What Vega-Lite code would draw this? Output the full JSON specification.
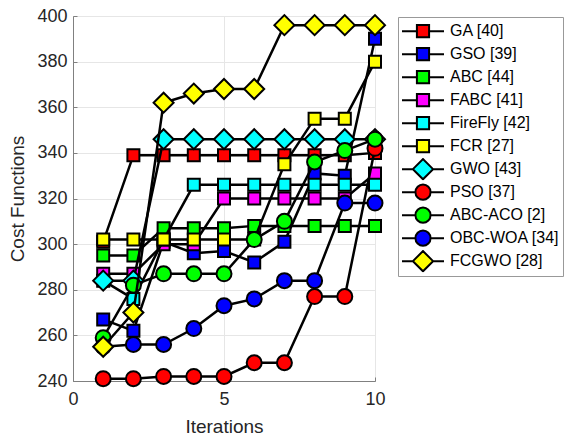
{
  "$schema": "https://vega.github.io/schema/vega-lite/v6.json",
  "width": 302,
  "height": 365,
  "autosize": {"type": "none"},
  "padding": {"left": 73, "top": 16, "right": 196, "bottom": 58},
  "background": "white",
  "config": {
    "view": {"stroke": "#808080", "strokeWidth": 1},
    "font": "Liberation Sans",
    "axis": {
      "labelFont": "Liberation Sans",
      "titleFont": "Liberation Sans",
      "labelFontSize": 18,
      "titleFontSize": 19,
      "titleFontWeight": "normal",
      "labelColor": "#262626",
      "titleColor": "#262626",
      "domainColor": "#808080",
      "gridColor": "#e6e6e6",
      "tickColor": "#808080",
      "tickSize": -4
    },
    "legend": {"symbolStrokeWidth": 2},
    "line": {"color": "black", "strokeWidth": 2.5},
    "point": {"filled": true, "stroke": "black", "strokeWidth": 2, "opacity": 1}
  },
  "data": {
    "values": [
      {"method": "GA [40]", "iteration": 1, "cost": 301},
      {"method": "GA [40]", "iteration": 2, "cost": 339},
      {"method": "GA [40]", "iteration": 3, "cost": 339},
      {"method": "GA [40]", "iteration": 4, "cost": 339},
      {"method": "GA [40]", "iteration": 5, "cost": 339},
      {"method": "GA [40]", "iteration": 6, "cost": 339},
      {"method": "GA [40]", "iteration": 7, "cost": 339},
      {"method": "GA [40]", "iteration": 8, "cost": 339},
      {"method": "GA [40]", "iteration": 9, "cost": 339},
      {"method": "GA [40]", "iteration": 10, "cost": 340},
      {"method": "GSO [39]", "iteration": 1, "cost": 267},
      {"method": "GSO [39]", "iteration": 2, "cost": 262},
      {"method": "GSO [39]", "iteration": 3, "cost": 301},
      {"method": "GSO [39]", "iteration": 4, "cost": 296},
      {"method": "GSO [39]", "iteration": 5, "cost": 297},
      {"method": "GSO [39]", "iteration": 6, "cost": 292},
      {"method": "GSO [39]", "iteration": 7, "cost": 301},
      {"method": "GSO [39]", "iteration": 8, "cost": 331},
      {"method": "GSO [39]", "iteration": 9, "cost": 330},
      {"method": "GSO [39]", "iteration": 10, "cost": 390},
      {"method": "ABC [44]", "iteration": 1, "cost": 295},
      {"method": "ABC [44]", "iteration": 2, "cost": 295},
      {"method": "ABC [44]", "iteration": 3, "cost": 307},
      {"method": "ABC [44]", "iteration": 4, "cost": 307},
      {"method": "ABC [44]", "iteration": 5, "cost": 307},
      {"method": "ABC [44]", "iteration": 6, "cost": 308},
      {"method": "ABC [44]", "iteration": 7, "cost": 308},
      {"method": "ABC [44]", "iteration": 8, "cost": 308},
      {"method": "ABC [44]", "iteration": 9, "cost": 308},
      {"method": "ABC [44]", "iteration": 10, "cost": 308},
      {"method": "FABC [41]", "iteration": 1, "cost": 287},
      {"method": "FABC [41]", "iteration": 2, "cost": 287},
      {"method": "FABC [41]", "iteration": 3, "cost": 300},
      {"method": "FABC [41]", "iteration": 4, "cost": 300},
      {"method": "FABC [41]", "iteration": 5, "cost": 320},
      {"method": "FABC [41]", "iteration": 6, "cost": 320},
      {"method": "FABC [41]", "iteration": 7, "cost": 320},
      {"method": "FABC [41]", "iteration": 8, "cost": 320},
      {"method": "FABC [41]", "iteration": 9, "cost": 320},
      {"method": "FABC [41]", "iteration": 10, "cost": 331},
      {"method": "FireFly [42]", "iteration": 1, "cost": 284},
      {"method": "FireFly [42]", "iteration": 2, "cost": 276},
      {"method": "FireFly [42]", "iteration": 3, "cost": 302},
      {"method": "FireFly [42]", "iteration": 4, "cost": 326},
      {"method": "FireFly [42]", "iteration": 5, "cost": 326},
      {"method": "FireFly [42]", "iteration": 6, "cost": 326},
      {"method": "FireFly [42]", "iteration": 7, "cost": 326},
      {"method": "FireFly [42]", "iteration": 8, "cost": 326},
      {"method": "FireFly [42]", "iteration": 9, "cost": 326},
      {"method": "FireFly [42]", "iteration": 10, "cost": 326},
      {"method": "FCR [27]", "iteration": 1, "cost": 302},
      {"method": "FCR [27]", "iteration": 2, "cost": 302},
      {"method": "FCR [27]", "iteration": 3, "cost": 302},
      {"method": "FCR [27]", "iteration": 4, "cost": 302},
      {"method": "FCR [27]", "iteration": 5, "cost": 302},
      {"method": "FCR [27]", "iteration": 6, "cost": 302},
      {"method": "FCR [27]", "iteration": 7, "cost": 335},
      {"method": "FCR [27]", "iteration": 8, "cost": 355},
      {"method": "FCR [27]", "iteration": 9, "cost": 355},
      {"method": "FCR [27]", "iteration": 10, "cost": 380},
      {"method": "GWO [43]", "iteration": 1, "cost": 284},
      {"method": "GWO [43]", "iteration": 2, "cost": 284},
      {"method": "GWO [43]", "iteration": 3, "cost": 346},
      {"method": "GWO [43]", "iteration": 4, "cost": 346},
      {"method": "GWO [43]", "iteration": 5, "cost": 346},
      {"method": "GWO [43]", "iteration": 6, "cost": 346},
      {"method": "GWO [43]", "iteration": 7, "cost": 346},
      {"method": "GWO [43]", "iteration": 8, "cost": 346},
      {"method": "GWO [43]", "iteration": 9, "cost": 346},
      {"method": "GWO [43]", "iteration": 10, "cost": 346},
      {"method": "PSO [37]", "iteration": 1, "cost": 241},
      {"method": "PSO [37]", "iteration": 2, "cost": 241},
      {"method": "PSO [37]", "iteration": 3, "cost": 242},
      {"method": "PSO [37]", "iteration": 4, "cost": 242},
      {"method": "PSO [37]", "iteration": 5, "cost": 242},
      {"method": "PSO [37]", "iteration": 6, "cost": 248},
      {"method": "PSO [37]", "iteration": 7, "cost": 248},
      {"method": "PSO [37]", "iteration": 8, "cost": 277},
      {"method": "PSO [37]", "iteration": 9, "cost": 277},
      {"method": "PSO [37]", "iteration": 10, "cost": 342},
      {"method": "ABC-ACO [2]", "iteration": 1, "cost": 259},
      {"method": "ABC-ACO [2]", "iteration": 2, "cost": 282},
      {"method": "ABC-ACO [2]", "iteration": 3, "cost": 287},
      {"method": "ABC-ACO [2]", "iteration": 4, "cost": 287},
      {"method": "ABC-ACO [2]", "iteration": 5, "cost": 287},
      {"method": "ABC-ACO [2]", "iteration": 6, "cost": 302},
      {"method": "ABC-ACO [2]", "iteration": 7, "cost": 310},
      {"method": "ABC-ACO [2]", "iteration": 8, "cost": 336},
      {"method": "ABC-ACO [2]", "iteration": 9, "cost": 341},
      {"method": "ABC-ACO [2]", "iteration": 10, "cost": 346},
      {"method": "OBC-WOA [34]", "iteration": 1, "cost": 255},
      {"method": "OBC-WOA [34]", "iteration": 2, "cost": 256},
      {"method": "OBC-WOA [34]", "iteration": 3, "cost": 256},
      {"method": "OBC-WOA [34]", "iteration": 4, "cost": 263},
      {"method": "OBC-WOA [34]", "iteration": 5, "cost": 273},
      {"method": "OBC-WOA [34]", "iteration": 6, "cost": 276},
      {"method": "OBC-WOA [34]", "iteration": 7, "cost": 284},
      {"method": "OBC-WOA [34]", "iteration": 8, "cost": 284},
      {"method": "OBC-WOA [34]", "iteration": 9, "cost": 318},
      {"method": "OBC-WOA [34]", "iteration": 10, "cost": 318},
      {"method": "FCGWO [28]", "iteration": 1, "cost": 255},
      {"method": "FCGWO [28]", "iteration": 2, "cost": 270},
      {"method": "FCGWO [28]", "iteration": 3, "cost": 362},
      {"method": "FCGWO [28]", "iteration": 4, "cost": 366},
      {"method": "FCGWO [28]", "iteration": 5, "cost": 368},
      {"method": "FCGWO [28]", "iteration": 6, "cost": 368},
      {"method": "FCGWO [28]", "iteration": 7, "cost": 396},
      {"method": "FCGWO [28]", "iteration": 8, "cost": 396},
      {"method": "FCGWO [28]", "iteration": 9, "cost": 396},
      {"method": "FCGWO [28]", "iteration": 10, "cost": 396}
    ]
  },
  "encoding": {
    "x": {"field": "iteration", "type": "quantitative", "scale": {"domain": [0, 10], "nice": false, "zero": false},
      "axis": {"values": [0, 5, 10], "title": "Iterations", "labelPadding": 13, "titlePadding": 9, "labelFlush": false}},
    "y": {"field": "cost", "type": "quantitative", "scale": {"domain": [240, 400], "nice": false, "zero": false},
      "axis": {"values": [240, 260, 280, 300, 320, 340, 360, 380, 400], "title": "Cost Functions", "labelPadding": 10, "titlePadding": 9, "labelFlush": false}}
  },
  "layer": [
    {
      "mark": {"type": "point", "opacity": 0, "filled": true, "strokeWidth": 2},
      "encoding": {
        "stroke": {"field": "method", "type": "nominal",
          "scale": {"domain": ["GA [40]", "GSO [39]", "ABC [44]", "FABC [41]", "FireFly [42]", "FCR [27]", "GWO [43]", "PSO [37]", "ABC-ACO [2]", "OBC-WOA [34]", "FCGWO [28]"],
            "range": ["#000000", "#000000", "#000000", "#000000", "#000000", "#000000", "#000000", "#000000", "#000000", "#000000", "#000000"]},
          "legend": {"title": null, "orient": "none", "legendX": 325, "legendY": 1, "padding": 3,
            "strokeColor": "#999999", "fillColor": "white", "labelFont": "Liberation Sans", "labelFontSize": 16,
            "labelColor": "black", "symbolSize": 1764, "symbolStrokeWidth": 2, "symbolOpacity": 1,
            "labelOffset": 5, "clipHeight": 22.3, "rowPadding": 0, "symbolOffset": 0, "labelLimit": 300}},
        "fill": {"field": "method", "type": "nominal",
          "scale": {"domain": ["GA [40]", "GSO [39]", "ABC [44]", "FABC [41]", "FireFly [42]", "FCR [27]", "GWO [43]", "PSO [37]", "ABC-ACO [2]", "OBC-WOA [34]", "FCGWO [28]"],
            "range": ["#ff0000", "#0000ff", "#00ff00", "#ff00ff", "#00ffff", "#ffff00", "#00ffff", "#ff0000", "#00ff00", "#0000ff", "#ffff00"]},
          "legend": {"title": null, "orient": "none", "legendX": 325, "legendY": 1, "padding": 3,
            "strokeColor": "#999999", "fillColor": "white", "labelFont": "Liberation Sans", "labelFontSize": 16,
            "labelColor": "black", "symbolSize": 1764, "symbolStrokeWidth": 2, "symbolOpacity": 1,
            "labelOffset": 5, "clipHeight": 22.3, "rowPadding": 0, "symbolOffset": 0, "labelLimit": 300}},
        "shape": {"field": "method", "type": "nominal",
          "scale": {"domain": ["GA [40]", "GSO [39]", "ABC [44]", "FABC [41]", "FireFly [42]", "FCR [27]", "GWO [43]", "PSO [37]", "ABC-ACO [2]", "OBC-WOA [34]", "FCGWO [28]"],
            "range": [
              "M-1,0H-0.29M0.29,0H1M-0.29,-0.29H0.29V0.29H-0.29Z",
              "M-1,0H-0.29M0.29,0H1M-0.29,-0.29H0.29V0.29H-0.29Z",
              "M-1,0H-0.29M0.29,0H1M-0.29,-0.29H0.29V0.29H-0.29Z",
              "M-1,0H-0.29M0.29,0H1M-0.29,-0.29H0.29V0.29H-0.29Z",
              "M-1,0H-0.29M0.29,0H1M-0.29,-0.29H0.29V0.29H-0.29Z",
              "M-1,0H-0.29M0.29,0H1M-0.29,-0.29H0.29V0.29H-0.29Z",
              "M-1,0H-0.48M0.48,0H1M-0.48,0L0,-0.48L0.48,0L0,0.48Z",
              "M-1,0H-0.36M0.36,0H1M-0.36,0A0.36,0.36,0,1,1,0.36,0A0.36,0.36,0,1,1,-0.36,0Z",
              "M-1,0H-0.36M0.36,0H1M-0.36,0A0.36,0.36,0,1,1,0.36,0A0.36,0.36,0,1,1,-0.36,0Z",
              "M-1,0H-0.36M0.36,0H1M-0.36,0A0.36,0.36,0,1,1,0.36,0A0.36,0.36,0,1,1,-0.36,0Z",
              "M-1,0H-0.48M0.48,0H1M-0.48,0L0,-0.48L0.48,0L0,0.48Z"
            ]},
          "legend": {"title": null, "orient": "none", "legendX": 325, "legendY": 1, "padding": 3,
            "strokeColor": "#999999", "fillColor": "white", "labelFont": "Liberation Sans", "labelFontSize": 16,
            "labelColor": "black", "symbolSize": 1764, "symbolStrokeWidth": 2, "symbolOpacity": 1,
            "labelOffset": 5, "clipHeight": 22.3, "rowPadding": 0, "symbolOffset": 0, "labelLimit": 300}}
      }
    },
    {"transform": [{"filter": {"field": "method", "equal": "GA [40]"}}], "mark": {"type": "line"}},
    {"transform": [{"filter": {"field": "method", "equal": "GA [40]"}}], "mark": {"type": "point", "shape": "square", "size": 144, "fill": "#ff0000"}},
    {"transform": [{"filter": {"field": "method", "equal": "GSO [39]"}}], "mark": {"type": "line"}},
    {"transform": [{"filter": {"field": "method", "equal": "GSO [39]"}}], "mark": {"type": "point", "shape": "square", "size": 144, "fill": "#0000ff"}},
    {"transform": [{"filter": {"field": "method", "equal": "ABC [44]"}}], "mark": {"type": "line"}},
    {"transform": [{"filter": {"field": "method", "equal": "ABC [44]"}}], "mark": {"type": "point", "shape": "square", "size": 144, "fill": "#00ff00"}},
    {"transform": [{"filter": {"field": "method", "equal": "FABC [41]"}}], "mark": {"type": "line"}},
    {"transform": [{"filter": {"field": "method", "equal": "FABC [41]"}}], "mark": {"type": "point", "shape": "square", "size": 144, "fill": "#ff00ff"}},
    {"transform": [{"filter": {"field": "method", "equal": "FireFly [42]"}}], "mark": {"type": "line"}},
    {"transform": [{"filter": {"field": "method", "equal": "FireFly [42]"}}], "mark": {"type": "point", "shape": "square", "size": 144, "fill": "#00ffff"}},
    {"transform": [{"filter": {"field": "method", "equal": "FCR [27]"}}], "mark": {"type": "line"}},
    {"transform": [{"filter": {"field": "method", "equal": "FCR [27]"}}], "mark": {"type": "point", "shape": "square", "size": 144, "fill": "#ffff00"}},
    {"transform": [{"filter": {"field": "method", "equal": "GWO [43]"}}], "mark": {"type": "line"}},
    {"transform": [{"filter": {"field": "method", "equal": "GWO [43]"}}], "mark": {"type": "point", "shape": "diamond", "size": 400, "fill": "#00ffff"}},
    {"transform": [{"filter": {"field": "method", "equal": "PSO [37]"}}], "mark": {"type": "line"}},
    {"transform": [{"filter": {"field": "method", "equal": "PSO [37]"}}], "mark": {"type": "point", "shape": "circle", "size": 225, "fill": "#ff0000"}},
    {"transform": [{"filter": {"field": "method", "equal": "ABC-ACO [2]"}}], "mark": {"type": "line"}},
    {"transform": [{"filter": {"field": "method", "equal": "ABC-ACO [2]"}}], "mark": {"type": "point", "shape": "circle", "size": 225, "fill": "#00ff00"}},
    {"transform": [{"filter": {"field": "method", "equal": "OBC-WOA [34]"}}], "mark": {"type": "line"}},
    {"transform": [{"filter": {"field": "method", "equal": "OBC-WOA [34]"}}], "mark": {"type": "point", "shape": "circle", "size": 225, "fill": "#0000ff"}},
    {"transform": [{"filter": {"field": "method", "equal": "FCGWO [28]"}}], "mark": {"type": "line"}},
    {"transform": [{"filter": {"field": "method", "equal": "FCGWO [28]"}}], "mark": {"type": "point", "shape": "diamond", "size": 400, "fill": "#ffff00"}}
  ]
}
